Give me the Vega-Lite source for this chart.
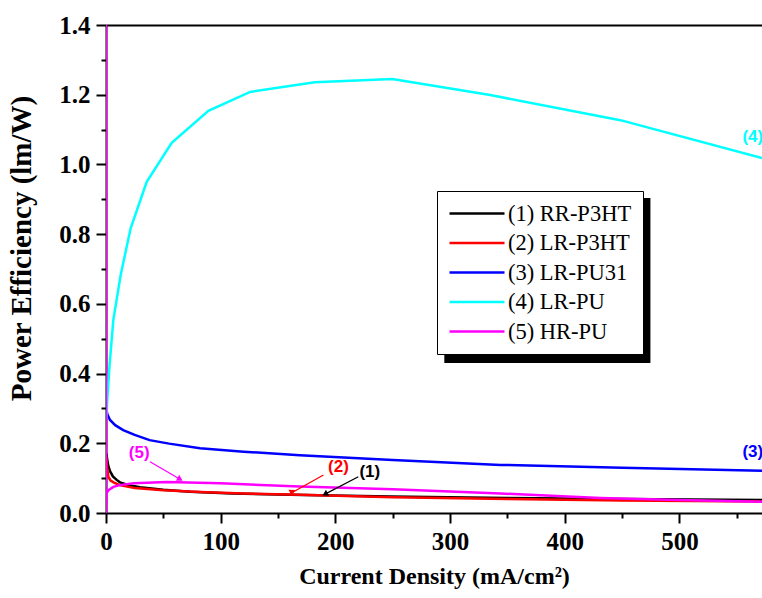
{
  "$schema": "https://vega.github.io/schema/vega-lite/v6.json",
  "autosize": "none",
  "width": 656,
  "height": 488,
  "padding": {"left": 106, "top": 25, "right": 0, "bottom": 85},
  "background": "white",
  "config": {
    "view": {"stroke": null},
    "axis": {"grid": false, "domainColor": "black", "domainWidth": 2, "tickColor": "black", "tickWidth": 2, "labelFlush": false,
      "labelFont": "Liberation Serif", "labelFontWeight": "bold", "labelFontSize": 25, "labelColor": "black",
      "titleFont": "Liberation Serif", "titleFontWeight": "bold", "titleFontSize": 24, "titleColor": "black"}
  },
  "datasets": {
    "curves": [
      {"series": "(1) RR-P3HT", "i": 1, "x": 0.3, "y": 0.17},
      {"series": "(1) RR-P3HT", "i": 2, "x": 1, "y": 0.155},
      {"series": "(1) RR-P3HT", "i": 3, "x": 2, "y": 0.135},
      {"series": "(1) RR-P3HT", "i": 4, "x": 3.5, "y": 0.12},
      {"series": "(1) RR-P3HT", "i": 5, "x": 6, "y": 0.105},
      {"series": "(1) RR-P3HT", "i": 6, "x": 9.3, "y": 0.095},
      {"series": "(1) RR-P3HT", "i": 7, "x": 12.2, "y": 0.088},
      {"series": "(1) RR-P3HT", "i": 8, "x": 20, "y": 0.08},
      {"series": "(1) RR-P3HT", "i": 9, "x": 29.7, "y": 0.074},
      {"series": "(1) RR-P3HT", "i": 10, "x": 50, "y": 0.067},
      {"series": "(1) RR-P3HT", "i": 11, "x": 73.3, "y": 0.061},
      {"series": "(1) RR-P3HT", "i": 12, "x": 110, "y": 0.056},
      {"series": "(1) RR-P3HT", "i": 13, "x": 160.6, "y": 0.052},
      {"series": "(1) RR-P3HT", "i": 14, "x": 248, "y": 0.047},
      {"series": "(1) RR-P3HT", "i": 15, "x": 350, "y": 0.043},
      {"series": "(1) RR-P3HT", "i": 16, "x": 450, "y": 0.04},
      {"series": "(1) RR-P3HT", "i": 17, "x": 572, "y": 0.037},

      {"series": "(2) LR-P3HT", "i": 1, "x": 0.3, "y": 0.16},
      {"series": "(2) LR-P3HT", "i": 2, "x": 1, "y": 0.13},
      {"series": "(2) LR-P3HT", "i": 3, "x": 2, "y": 0.104},
      {"series": "(2) LR-P3HT", "i": 4, "x": 4, "y": 0.093},
      {"series": "(2) LR-P3HT", "i": 5, "x": 7, "y": 0.087},
      {"series": "(2) LR-P3HT", "i": 6, "x": 12, "y": 0.08},
      {"series": "(2) LR-P3HT", "i": 7, "x": 25, "y": 0.072},
      {"series": "(2) LR-P3HT", "i": 8, "x": 50, "y": 0.065},
      {"series": "(2) LR-P3HT", "i": 9, "x": 82, "y": 0.06},
      {"series": "(2) LR-P3HT", "i": 10, "x": 120, "y": 0.056},
      {"series": "(2) LR-P3HT", "i": 11, "x": 169, "y": 0.052},
      {"series": "(2) LR-P3HT", "i": 12, "x": 250, "y": 0.045},
      {"series": "(2) LR-P3HT", "i": 13, "x": 350, "y": 0.04},
      {"series": "(2) LR-P3HT", "i": 14, "x": 450, "y": 0.036},
      {"series": "(2) LR-P3HT", "i": 15, "x": 572, "y": 0.033},

      {"series": "(3) LR-PU31", "i": 1, "x": 0.3, "y": 0.3},
      {"series": "(3) LR-PU31", "i": 2, "x": 1, "y": 0.285},
      {"series": "(3) LR-PU31", "i": 3, "x": 3.5, "y": 0.267},
      {"series": "(3) LR-PU31", "i": 4, "x": 8, "y": 0.252},
      {"series": "(3) LR-PU31", "i": 5, "x": 15, "y": 0.238},
      {"series": "(3) LR-PU31", "i": 6, "x": 25, "y": 0.224},
      {"series": "(3) LR-PU31", "i": 7, "x": 38, "y": 0.209},
      {"series": "(3) LR-PU31", "i": 8, "x": 55, "y": 0.199},
      {"series": "(3) LR-PU31", "i": 9, "x": 82, "y": 0.186},
      {"series": "(3) LR-PU31", "i": 10, "x": 120, "y": 0.176},
      {"series": "(3) LR-PU31", "i": 11, "x": 169, "y": 0.166},
      {"series": "(3) LR-PU31", "i": 12, "x": 250, "y": 0.152},
      {"series": "(3) LR-PU31", "i": 13, "x": 344, "y": 0.138},
      {"series": "(3) LR-PU31", "i": 14, "x": 450, "y": 0.13},
      {"series": "(3) LR-PU31", "i": 15, "x": 572, "y": 0.121},

      {"series": "(4) LR-PU", "i": 1, "x": 0.3, "y": 0.27},
      {"series": "(4) LR-PU", "i": 2, "x": 1, "y": 0.32},
      {"series": "(4) LR-PU", "i": 3, "x": 3, "y": 0.42},
      {"series": "(4) LR-PU", "i": 4, "x": 6.4, "y": 0.554},
      {"series": "(4) LR-PU", "i": 5, "x": 12.8, "y": 0.683},
      {"series": "(4) LR-PU", "i": 6, "x": 21.5, "y": 0.817},
      {"series": "(4) LR-PU", "i": 7, "x": 35.5, "y": 0.95},
      {"series": "(4) LR-PU", "i": 8, "x": 57.3, "y": 1.062},
      {"series": "(4) LR-PU", "i": 9, "x": 89.3, "y": 1.154},
      {"series": "(4) LR-PU", "i": 10, "x": 125.7, "y": 1.208},
      {"series": "(4) LR-PU", "i": 11, "x": 182, "y": 1.236},
      {"series": "(4) LR-PU", "i": 12, "x": 249.6, "y": 1.245},
      {"series": "(4) LR-PU", "i": 13, "x": 335, "y": 1.199},
      {"series": "(4) LR-PU", "i": 14, "x": 448.5, "y": 1.127},
      {"series": "(4) LR-PU", "i": 15, "x": 572, "y": 1.018},

      {"series": "(5) HR-PU", "i": 1, "x": 0, "y": 1.5},
      {"series": "(5) HR-PU", "i": 2, "x": 0, "y": 0.0},
      {"series": "(5) HR-PU", "i": 3, "x": 0.5, "y": 0.056},
      {"series": "(5) HR-PU", "i": 4, "x": 2, "y": 0.065},
      {"series": "(5) HR-PU", "i": 5, "x": 6.4, "y": 0.075},
      {"series": "(5) HR-PU", "i": 6, "x": 12, "y": 0.08},
      {"series": "(5) HR-PU", "i": 7, "x": 24, "y": 0.085},
      {"series": "(5) HR-PU", "i": 8, "x": 53, "y": 0.089},
      {"series": "(5) HR-PU", "i": 9, "x": 100, "y": 0.085},
      {"series": "(5) HR-PU", "i": 10, "x": 169, "y": 0.076},
      {"series": "(5) HR-PU", "i": 11, "x": 250, "y": 0.068},
      {"series": "(5) HR-PU", "i": 12, "x": 344, "y": 0.056},
      {"series": "(5) HR-PU", "i": 13, "x": 431, "y": 0.043},
      {"series": "(5) HR-PU", "i": 14, "x": 500, "y": 0.037},
      {"series": "(5) HR-PU", "i": 15, "x": 572, "y": 0.032}
    ],
    "labels": [
      {"series": "(4) LR-PU", "label": "(4)", "x": 564, "y": 1.079},
      {"series": "(3) LR-PU31", "label": "(3)", "x": 564, "y": 0.175},
      {"series": "(5) HR-PU", "label": "(5)", "x": 29, "y": 0.171},
      {"series": "(2) LR-P3HT", "label": "(2)", "x": 202.7, "y": 0.133},
      {"series": "(1) RR-P3HT", "label": "(1)", "x": 230, "y": 0.118}
    ],
    "arrows": [
      {"series": "(5) HR-PU", "x": 38.4, "y": 0.147, "x2": 64.6, "y2": 0.097},
      {"series": "(2) LR-P3HT", "x": 189.6, "y": 0.109, "x2": 162, "y2": 0.058},
      {"series": "(1) RR-P3HT", "x": 220, "y": 0.104, "x2": 191, "y2": 0.054}
    ],
    "shadow": [
      {"x": 295, "x2": 474.7, "y": 0.904, "y2": 0.43}
    ]
  },
  "resolve": {"axis": {"x": "independent", "y": "independent"}},
  "layer": [
    {
      "data": {"name": "shadow"},
      "mark": {"type": "rect", "color": "black"},
      "encoding": {
        "x": {"field": "x", "type": "quantitative", "scale": {"domain": [0, 572], "nice": false},
          "axis": {"orient": "top", "labels": false, "ticks": false, "title": null, "domainWidth": 2}},
        "x2": {"field": "x2"},
        "y": {"field": "y", "type": "quantitative", "scale": {"domain": [0, 1.4], "nice": false}, "axis": null},
        "y2": {"field": "y2"}
      }
    },
    {
      "data": {"name": "curves"},
      "mark": {"type": "line", "strokeWidth": 2.5, "clip": true},
      "encoding": {
        "x": {"field": "x", "type": "quantitative",
          "axis": {"orient": "bottom", "title": "Current Density (mA/cm²)",
            "values": [0, 100, 200, 300, 400, 500], "tickSize": 10,
            "labelPadding": 6, "titlePadding": 10}},
        "y": {"field": "y", "type": "quantitative",
          "axis": {"orient": "left", "title": "Power Efficiency (lm/W)", "titleFontSize": 29,
            "values": [0, 0.2, 0.4, 0.6, 0.8, 1.0, 1.2, 1.4], "format": ".1f", "tickSize": 10,
            "labelPadding": 6, "titleX": -70, "titleY": 223}},
        "color": {"field": "series", "type": "nominal",
          "scale": {"domain": ["(1) RR-P3HT", "(2) LR-P3HT", "(3) LR-PU31", "(4) LR-PU", "(5) HR-PU"],
            "range": ["#000000", "#ff0000", "#0000ff", "#00ffff", "#ff00ff"]},
          "legend": {"orient": "none", "legendX": 331, "legendY": 166, "title": null,
            "fillColor": "white", "strokeColor": "black", "padding": 11,
            "labelFont": "Liberation Serif", "labelFontSize": 22.5, "labelColor": "black",
            "symbolType": "M-1,0H4.5", "symbolSize": 400, "symbolStrokeWidth": 2.5,
            "labelOffset": 37, "rowPadding": 6.5}},
        "order": {"field": "i"}
      }
    },
    {
      "data": {"name": "arrows"},
      "mark": {"type": "rule", "strokeWidth": 1.3},
      "encoding": {
        "x": {"field": "x", "type": "quantitative",
          "axis": {"orient": "bottom", "values": [50, 150, 250, 350, 450, 550], "tickSize": 5,
            "labels": false, "domain": false, "title": null}},
        "y": {"field": "y", "type": "quantitative",
          "axis": {"orient": "left", "values": [0.1, 0.3, 0.5, 0.7, 0.9, 1.1, 1.3], "tickSize": 5,
            "labels": false, "domain": false, "title": null}},
        "x2": {"field": "x2"},
        "y2": {"field": "y2"},
        "color": {"field": "series", "type": "nominal", "legend": null}
      }
    },
    {
      "data": {"name": "arrows"},
      "mark": {"type": "point", "shape": "triangle-up", "filled": true, "size": 45, "opacity": 1},
      "encoding": {
        "x": {"field": "x2", "type": "quantitative", "axis": null},
        "y": {"field": "y2", "type": "quantitative", "axis": null},
        "angle": {"field": "series", "type": "nominal",
          "scale": {"domain": ["(5) HR-PU", "(2) LR-P3HT", "(1) RR-P3HT"], "range": [120, 241, 242]}},
        "color": {"field": "series", "type": "nominal", "legend": null}
      }
    },
    {
      "data": {"name": "labels"},
      "mark": {"type": "text", "font": "Liberation Sans", "fontWeight": "bold", "fontSize": 17, "align": "center", "baseline": "middle"},
      "encoding": {
        "x": {"field": "x", "type": "quantitative", "axis": null},
        "y": {"field": "y", "type": "quantitative", "axis": null},
        "text": {"field": "label"},
        "color": {"field": "series", "type": "nominal", "legend": null}
      }
    }
  ]
}
